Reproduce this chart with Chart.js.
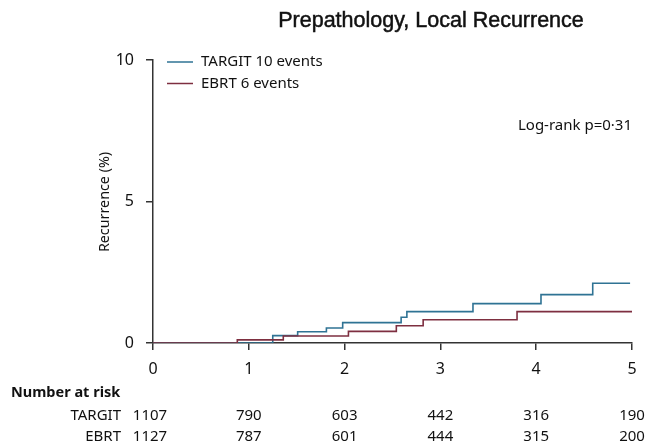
<!DOCTYPE html>
<html>
<head>
<meta charset="utf-8">
<script src="https://cdn.jsdelivr.net/npm/chart.js@4.4.1/dist/chart.umd.min.js"></script>
<style>
  html, body { margin: 0; padding: 0; background: #fff; }
  #wrap { width: 649px; height: 446px; position: relative; }
</style>
</head>
<body>
<div id="wrap"><canvas id="km"></canvas></div>
<script>
// Kaplan-Meier style cumulative recurrence
const xTicks = [0, 1, 2, 3, 4, 5]
const yTicks = [0, 5, 10]

const targitTimes = [0, 1.25, 1.51, 1.81, 1.98, 2.59, 2.65, 3.34, 4.05, 4.59, 4.98]
const targitRisk = [0, 0.26, 0.40, 0.53, 0.72, 0.91, 1.11, 1.39, 1.71, 2.11, 2.11]
const ebrtTimes = [0, 0.88, 1.36, 2.04, 2.54, 2.82, 3.80, 5.0]
const ebrtRisk = [0, 0.11, 0.25, 0.41, 0.61, 0.82, 1.11, 1.11]

const atRiskGroups = ["TARGIT", "EBRT"]
const targitAtRisk = [1107, 790, 603, 442, 316, 190]
const ebrtAtRisk = [1127, 787, 601, 444, 315, 200]

const FONT = "'Noto Sans', 'DejaVu Sans', sans-serif"
const blue = "#2f7394"
const red = "#7e2f40"

const pts = (xs, ys) => xs.map((x, i) => ({ x, y: ys[i] }))

// title, y title, legend, log-rank note and number-at-risk table drawn onto the canvas
const extras = {
  id: "extras",
  afterDraw(chart) {
    const { ctx, scales: { x } } = chart
    ctx.save()
    ctx.fillStyle = "#111"
    ctx.strokeStyle = "#111"
    ctx.textBaseline = "middle"

    // the reference title is a touch heavier than regular weight
    ctx.font = "21.5px 'Liberation Sans', Arial, sans-serif"
    ctx.textAlign = "center"
    ctx.lineWidth = 0.5
    ctx.fillText("Prepathology, Local Recurrence", 431, 21)
    ctx.strokeText("Prepathology, Local Recurrence", 431, 21)

    ctx.save()
    ctx.translate(105, 202)
    ctx.rotate(-Math.PI / 2)
    ctx.font = "14.3px " + FONT
    ctx.fillText("Recurrence (%)", 0, 0)
    ctx.restore()

    ctx.font = "15px " + FONT
    ctx.textAlign = "left"
    chart.data.datasets.slice().reverse().forEach((ds, i) => {
      const y = 62 + i * 21.5
      ctx.strokeStyle = ds.borderColor
      ctx.lineWidth = 1.5
      ctx.beginPath(); ctx.moveTo(167, y); ctx.lineTo(193, y); ctx.stroke()
      ctx.fillText(ds.label, 201, y)
    })

    ctx.textAlign = "right"
    ctx.fillText("Log-rank p=0·31", 632, 126)

    ctx.textAlign = "left"
    ctx.font = "bold 14.5px " + FONT
    ctx.fillText("Number at risk", 11, 393)

    ctx.font = "15px " + FONT
    const rows = [targitAtRisk, ebrtAtRisk]
    rows.forEach((row, r) => {
      const y = 416 + r * 21
      ctx.textAlign = "right"
      ctx.fillText(atRiskGroups[r], 121, y)
      ctx.textAlign = "center"
      row.forEach((n, i) => ctx.fillText(String(n), x.getPixelForValue(xTicks[i]) - (i === 0 ? 3 : 0), y))
    })
    ctx.restore()
  },
}

new Chart(document.getElementById("km"), {
  type: "line",
  data: {
    datasets: [
      { label: "EBRT 6 events", data: pts(ebrtTimes, ebrtRisk), borderColor: red, order: 0 },
      { label: "TARGIT 10 events", data: pts(targitTimes, targitRisk), borderColor: blue, order: 1 },
    ].map((d) => ({ ...d, stepped: true, borderWidth: 1.6, pointRadius: 0, fill: false })),
  },
  options: {
    responsive: true,
    maintainAspectRatio: false,
    animation: false,
    events: [],
    layout: { padding: { left: 0, right: 17, top: 60, bottom: 63 } },
    plugins: { legend: { display: false }, tooltip: { enabled: false } },
    scales: {
      x: {
        type: "linear",
        min: 0,
        max: 5,
        afterFit: (s) => { s.height = 40 },
        afterBuildTicks: (s) => { s.ticks = xTicks.map((v) => ({ value: v })) },
        border: { display: true, color: "#333", width: 1.5 },
        grid: { display: true, drawOnChartArea: false, drawTicks: true, tickLength: 7, color: "#333", lineWidth: 1.5 },
        ticks: { color: "#111", font: { family: FONT, size: 16 }, padding: 10 },
      },
      y: {
        min: 0,
        max: 10,
        afterFit: (s) => { s.width = 153 },
        afterBuildTicks: (s) => { s.ticks = yTicks.map((v) => ({ value: v })) },
        border: { display: true, color: "#333", width: 1.5 },
        grid: { display: true, drawOnChartArea: false, drawTicks: true, tickLength: 7, color: "#333", lineWidth: 1.5 },
        ticks: { color: "#111", font: { family: FONT, size: 16 }, padding: 12 },
      },
    },
  },
  plugins: [extras],
})
</script>
</body>
</html>
